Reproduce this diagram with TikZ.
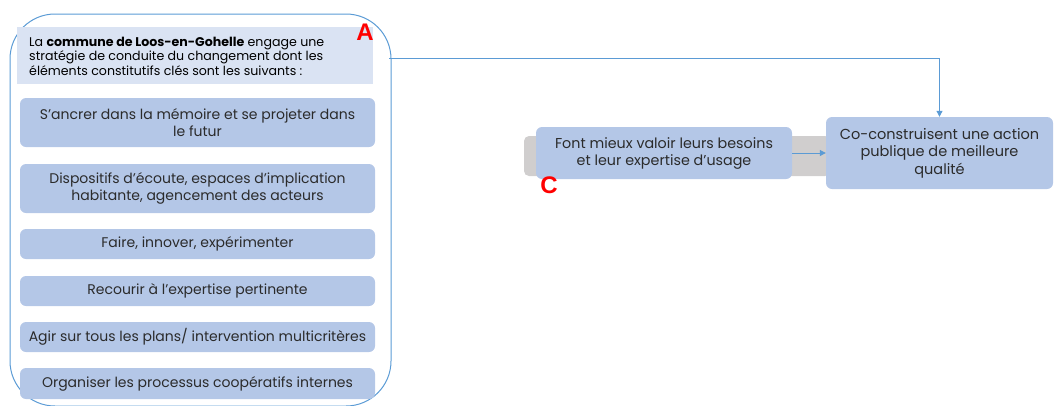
\documentclass[tikz,border=0pt]{standalone}
\usepackage{fontspec}
\setmainfont{Poppins}
\newfontfamily\markfont{Liberation Sans}
\usetikzlibrary{arrows.meta}
\definecolor{frameblue}{HTML}{5B9BD5}
\definecolor{itemblue}{HTML}{B4C7E7}
\definecolor{headblue}{HTML}{DAE3F3}
\definecolor{backgray}{HTML}{D0CECE}
\definecolor{txt}{HTML}{2B2B2B}
\tikzset{
  itembox/.style={fill=itemblue, rounded corners=6pt, inner sep=0pt, align=center,
    text=txt, font=\fontsize{14}{16.5}\selectfont, minimum width=355pt},
  bigframe/.style={draw=frameblue, line width=1pt, rounded corners=45pt, inner sep=0pt},
  link/.style={draw=frameblue, line width=1pt, -{Triangle[length=6pt,width=6pt]}},
  letter/.style={text=red, font=\markfont\bfseries\fontsize{24}{24}\selectfont, inner sep=0pt}
}
\begin{document}
\begin{tikzpicture}[x=1pt,y=-1pt]
  \useasboundingbox (0,0) rectangle (1054,405);
  % outer frame of the strategy
  \node[bigframe, minimum width=381pt, minimum height=392pt] (frame) at (200.5,210) {};
  % introduction
  \node[fill=headblue, minimum width=356pt, minimum height=57pt, inner sep=0pt] (head) at (195,55.5) {};
  \node[anchor=west, align=left, text=black, font=\fontsize{12.6}{14.5}\selectfont, inner sep=0pt] (headtxt) at (29,56)
    {La \textbf{commune de Loos-en-Gohelle} engage une\\stratégie de conduite du changement dont les\\éléments constitutifs clés sont les suivants :};
  \node[letter] (lA) at (365,32) {A};
  % constituent elements
  \node[itembox, minimum height=49pt] (i1) at (197.5,122.5) {S’ancrer dans la mémoire et se projeter dans\\le futur};
  \node[itembox, minimum height=49pt] (i2) at (197.5,188.5) {Dispositifs d’écoute, espaces d’implication\\habitante, agencement des acteurs};
  \node[itembox, minimum height=30pt] (i3) at (197.5,244) {Faire, innover, expérimenter};
  \node[itembox, minimum height=30pt] (i4) at (197.5,291) {Recourir à l’expertise pertinente};
  \node[itembox, minimum height=30pt] (i5) at (197.5,337) {Agir sur tous les plans/ intervention multicritères};
  \node[itembox, minimum height=31pt] (i6) at (197.5,383.5) {Organiser les processus coopératifs internes};
  % right-hand chain
  \node[fill=backgray, rounded corners=5pt, minimum width=306pt, minimum height=40pt, inner sep=0pt] (band) at (677,156) {};
  \node[itembox, minimum width=256pt, minimum height=52pt, font=\fontsize{14.3}{17}\selectfont] (usage) at (664,153) {Font mieux valoir leurs besoins\\et leur expertise d’usage};
  \node[itembox, minimum width=227pt, minimum height=72pt, font=\fontsize{14.5}{17.5}\selectfont] (res) at (939.5,153) {Co-construisent une action\\publique de meilleure\\qualité};
  \node[letter] (lC) at (549,185) {C};
  % connectors
  \coordinate (aout) at (389,58);
  \draw[link] (aout) -| (res.north);
  \draw[link] (usage.east) -- (res.west);
\end{tikzpicture}
\end{document}
